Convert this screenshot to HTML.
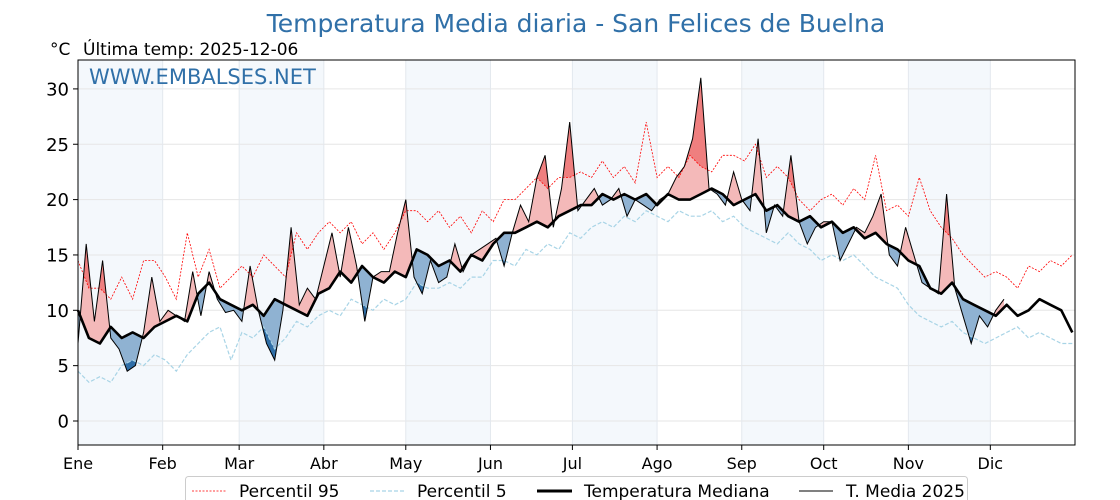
<!DOCTYPE html>
<html><head><meta charset="utf-8"><style>
html,body{margin:0;padding:0;background:#fff;}
svg{display:block;font-family:"DejaVu Sans","Liberation Sans",sans-serif;}
</style></head><body>
<svg id="chart" width="1120" height="500" xmlns="http://www.w3.org/2000/svg">
<text x="576" y="32" text-anchor="middle" font-size="25" fill="#3070a8">Temperatura Media diaria - San Felices de Buelna</text>
<text x="50" y="55" font-size="17" fill="#000">°C</text>
<text x="83" y="55" font-size="17" fill="#000">Última temp: 2025-12-06</text>
<g id="bands"></g>
<g id="grid"></g>
<g id="fills"></g>
<g id="lines"></g>
<text x="89" y="84" font-size="21" fill="#3070a8">WWW.EMBALSES.NET</text>
<rect x="78" y="60" width="997" height="385" fill="none" stroke="#000" stroke-width="1"/>
<g id="axes"></g>
<g>
<rect x="185.5" y="476.5" width="782" height="40" rx="3" fill="#fff" stroke="#ccc"/>
<line x1="192" y1="491" x2="226" y2="491" stroke="red" stroke-width="0.8" stroke-dasharray="2,1.5"/>
<text x="239" y="497" font-size="17">Percentil 95</text>
<line x1="370" y1="491" x2="404" y2="491" stroke="#a8d4e6" stroke-width="1.2" stroke-dasharray="4,2"/>
<text x="417" y="497" font-size="17">Percentil 5</text>
<line x1="537" y1="491" x2="572" y2="491" stroke="#000" stroke-width="3"/>
<text x="584" y="497" font-size="17">Temperatura Mediana</text>
<line x1="799" y1="491" x2="833" y2="491" stroke="#000" stroke-width="1"/>
<text x="846" y="497" font-size="17">T. Media 2025</text>
</g>
</svg>
<script>
const months = ["Ene","Feb","Mar","Abr","May","Jun","Jul","Ago","Sep","Oct","Nov","Dic"];
const monthStartDays = [0,31,59,90,120,151,181,212,243,273,304,334];
const yTicks = [0,5,10,15,20,25,30];
const refDays = [];
for (let d = 0; d <= 364; d += 4) refDays.push(d);
const median = [10,7.5,7,8.5,7.5,8,7.5,8.5,9,9.5,9,11.5,12.5,11,10.5,10,10.5,9.5,11,10.5,10,9.5,11.5,12,13.5,12.5,14,13,12.5,13.5,13,15.5,15,14,14.5,13.5,15,14.5,16,17,17,17.5,18,17.5,18.5,19,19.5,19.5,20.5,20,20.5,20,20.5,19.5,20.5,20,20,20.5,21,20.5,19.5,20,20.5,19,19.5,18.5,18,18.5,17.5,18,17,17.5,16.5,17,16,15.5,14.5,14,12,11.5,12.5,11,10.5,10,9.5,10.5,9.5,10,11,10.5,10,8];
const p95 = [14.5,12,12,11,13,11,14.5,14.5,13,11,17,13,15.5,12,13,14,13,15,14,13,17,15.5,17,18,17,18,16,17,15.5,17,19,19,18,19,17.5,18.5,17,19,18,20,20,21,22,21,22,22,22.5,22,23.5,22,23,21.5,27,22,23,22,24,23,22.5,24,24,23.5,25,22,23,22,20,19,20,20.5,19.5,21,20,24,19,19.5,18.5,22,19,17.5,16.5,15,14,13,13.5,13,12,14,13.5,14.5,14,15];
const p5 = [4.5,3.5,4,3.5,5,5.5,5,6,5.5,4.5,6,7,8,8.5,5.5,8,7.5,8.5,6.5,7.5,9,8.5,9.5,10,9.5,11,10.5,10,11,10.5,11,12.5,12,12,12.5,12,13,13,14.5,14.5,14,15.5,15,16,15.5,17,16.5,17.5,18,17.5,18.5,18,19,18.5,18,19,18.5,18.5,19,18,18.5,17.5,17,16.5,16,17,16,15.5,14.5,15,14.5,15,14,13,12.5,12,10.5,9.5,9,8.5,9,8,7.5,7,7.5,8,8.5,7.5,8,7.5,7,7];
const days2025 = [];
for (let d = 0; d <= 339; d += 3) days2025.push(d);
const temp2025 = [7,16,9,14.5,7.5,6.5,4.5,5,8,13,9,10,9.5,9,13.5,9.5,13.5,11,9.8,10,9,14,10,7,5.5,10,17.5,10.5,12,11,14,17,13,17.5,14,9,13,13.5,13.5,17,20,13,11.5,14.5,12.5,13,16,13.5,15,15.5,16,16.5,14,17,19.5,18,22,24,17.5,21,27,19,20,21,19.5,20,21,18.5,20,19.5,19,20,20.5,22,23,25.5,31,21,20.5,19.5,22.5,20,19,25.5,17,19.5,18.5,24,18,16,17.5,18,18,14.5,16,17.5,17,18.5,20.5,15,14,17.5,15,12.5,12,11.5,20.5,12,9.5,7,9.5,8.5,10,11];

const X0 = 78, X1 = 1075, Y0 = 421, PPD = 11.07;
const xs = d => X0 + d * (X1 - X0) / 365;
const ys = v => Y0 - v * PPD;
const NS = "http://www.w3.org/2000/svg";
function mk(tag, attrs, parent) {
  const e = document.createElementNS(NS, tag);
  for (const k in attrs) e.setAttribute(k, attrs[k]);
  parent.appendChild(e);
  return e;
}
function interp(dArr, vArr, d) {
  if (d <= dArr[0]) return vArr[0];
  for (let i = 1; i < dArr.length; i++) {
    if (d <= dArr[i]) { const t = (d - dArr[i-1]) / (dArr[i] - dArr[i-1]); return vArr[i-1] + t * (vArr[i] - vArr[i-1]); }
  }
  return vArr[vArr.length - 1];
}
const bands = document.getElementById('bands');
const grid = document.getElementById('grid');
const axes = document.getElementById('axes');
const fills = document.getElementById('fills');
const lines = document.getElementById('lines');

for (let i = 0; i < 12; i += 2) {
  const b = mk('rect', {x: xs(monthStartDays[i]), y: 60, width: xs(monthStartDays[i+1]) - xs(monthStartDays[i]), height: 385, fill: '#f4f8fc'}, bands);
  
  
}
yTicks.forEach(v => {
  const g = mk('line', {x1: X0, x2: X1, y1: ys(v), y2: ys(v), stroke: '#e6e6e6', 'stroke-width': 1}, grid);
  
  
  const t = mk('line', {x1: X0 - 5, x2: X0, y1: ys(v), y2: ys(v), stroke: '#000'}, axes);
  
  
  const l = mk('text', {x: X0 - 9, y: ys(v) + 6.5, 'text-anchor': 'end', 'font-size': 18}, axes);
  l.textContent = v;
  
  
});
months.forEach((m, i) => {
  const x = xs(monthStartDays[i]);
  const g = mk('line', {x1: x, x2: x, y1: 60, y2: 445, stroke: '#e3e8ee', 'stroke-width': 1}, grid);
  
  
  const t = mk('line', {x1: x, x2: x, y1: 445, y2: 450, stroke: '#000'}, axes);
  
  
  const l = mk('text', {x: x, y: 469, 'text-anchor': 'middle', 'font-size': 16}, axes);
  l.textContent = m;
  
  
});

const lastDay = days2025[days2025.length - 1];
for (let x = X0; x < xs(lastDay); x += 1) {
  const d = (x + 0.5 - X0) * 365 / (X1 - X0);
  const a = interp(days2025, temp2025, d);
  const m = interp(refDays, median, d);
  const hi = interp(refDays, p95, d);
  const lo = interp(refDays, p5, d);
  if (a > m) {
    const top = a, inner = Math.max(m, Math.min(a, hi));
    const r = mk('rect', {x: x, y: ys(inner), width: 1.05, height: ys(m) - ys(inner), fill: '#f4b9b9'}, fills);
    
    
    if (top > hi) {
      const r2 = mk('rect', {x: x, y: ys(top), width: 1.05, height: ys(Math.max(hi, m)) - ys(top), fill: '#ef7f7f'}, fills);
      
      
    }
  } else {
    const inner = Math.min(m, Math.max(a, lo));
    const r = mk('rect', {x: x, y: ys(m), width: 1.05, height: ys(inner) - ys(m), fill: '#8fb2d2'}, fills);
    
    
    if (a < lo) {
      const r2 = mk('rect', {x: x, y: ys(Math.min(lo, m)), width: 1.05, height: ys(a) - ys(Math.min(lo, m)), fill: '#2f6ea6'}, fills);
      
      
    }
  }
}
function pts(dArr, vArr) { return dArr.map((d, i) => xs(d).toFixed(1) + ',' + ys(vArr[i]).toFixed(1)).join(' '); }
const lp95 = mk('polyline', {points: pts(refDays, p95), fill: 'none', stroke: 'red', 'stroke-width': 0.8, 'stroke-dasharray': '2,1.5'}, lines);


const lp5 = mk('polyline', {points: pts(refDays, p5), fill: 'none', stroke: '#a8d4e6', 'stroke-width': 1.2, 'stroke-dasharray': '4,2'}, lines);


const lmed = mk('polyline', {points: pts(refDays, median), fill: 'none', stroke: '#000', 'stroke-width': 2.6, 'stroke-linejoin': 'round'}, lines);


const l25 = mk('polyline', {points: pts(days2025, temp2025), fill: 'none', stroke: '#000', 'stroke-width': 1}, lines);


</script>
</body></html>
